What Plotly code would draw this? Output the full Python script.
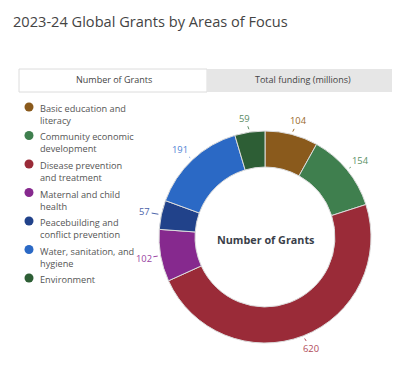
import math
import plotly.graph_objects as go

categories = ["Basic education and<br>literacy", "Community economic<br>development",
              "Disease prevention<br>and treatment", "Maternal and child<br>health",
              "Peacebuilding and<br>conflict prevention", "Water, sanitation, and<br>hygiene",
              "Environment"]
grants = [104, 154, 620, 102, 57, 191, 59]
colors = ["#8a5a1c", "#3f7f4e", "#9a2b38", "#86298e", "#21428a", "#2b69c5", "#2d5e35"]
label_colors = ["#9a6a2c", "#5a9266", "#b04a58", "#9a44a2", "#4a62a8", "#4f84d4", "#5a8a62"]
title = "2023-24 Global Grants by Areas of Focus"
tabs = ["Number of Grants", "Total funding (millions)"]
center_text = "Number of Grants"

# page body has an 8px margin: figure origin sits at (8, 8) of the window
OFF = 8
W, H = 392, 360
def px(x): return (x - OFF) / W
def py(y): return 1 - (y - OFF) / H

CX, CY, R = 265, 237, 106

fig = go.Figure()
fig.add_trace(go.Pie(
    labels=categories, values=grants, sort=False, direction="clockwise", rotation=0,
    hole=0.66, marker=dict(colors=colors, line=dict(color="#dcdcdc", width=1)),
    textinfo="none", automargin=False,
    domain=dict(x=[px(CX - R), px(CX + R)], y=[py(CY + R), py(CY - R)]),
    showlegend=False, hoverinfo="label+value"))

shapes = [
    dict(type="rect", xref="paper", yref="paper", x0=px(19), x1=px(207), y0=py(92), y1=py(69),
         fillcolor="white", line=dict(color="#dcdcdc", width=1)),
    dict(type="rect", xref="paper", yref="paper", x0=px(207), x1=px(396), y0=py(92), y1=py(69),
         fillcolor="#e6e6e6", line=dict(width=0)),
    dict(type="line", xref="paper", yref="paper", x0=px(397), x1=px(397), y0=0, y1=1,
         line=dict(color="#ececec", width=1)),
]
annotations = [
    dict(text=title, x=px(11), y=py(21), xref="paper", yref="paper", xanchor="left",
         yanchor="middle", showarrow=False, font=dict(size=14.6, color="#444", family="Open Sans")),
    dict(text=tabs[0], x=px(114), y=py(80), xref="paper", yref="paper", xanchor="center",
         yanchor="middle", showarrow=False, font=dict(size=9, color="#444", family="Open Sans")),
    dict(text=tabs[1], x=px(303), y=py(80), xref="paper", yref="paper", xanchor="center",
         yanchor="middle", showarrow=False, font=dict(size=9, color="#444", family="Open Sans")),
    dict(text="<b>" + center_text + "</b>", x=px(265), y=py(239), xref="paper", yref="paper",
         xanchor="center", yanchor="middle",
         showarrow=False, font=dict(size=10.8, color="#3a3f4a", family="Open Sans")),
]

# value labels with short leader lines, placed at each slice's mid-angle
total = sum(grants)
cum = 0
for v, col in zip(grants, label_colors):
    mid = (cum + v / 2) / total * 2 * math.pi
    cum += v
    ux, uy = math.sin(mid), -math.cos(mid)
    d = 13
    annotations.append(dict(
        text=str(v), x=px(CX + (R + 1) * ux), y=py(CY + (R + 1) * uy),
        xref="paper", yref="paper", ax=d * ux + 3 * math.copysign(1, ux), ay=d * uy,
        axref="pixel", ayref="pixel",
        showarrow=True, arrowhead=0, arrowwidth=1, arrowcolor=col, standoff=2,
        font=dict(size=9.4, color=col, family="Open Sans")))

# legend
for i, (c, col) in enumerate(zip(categories, colors)):
    my = 107 + 28.5 * i
    shapes.append(dict(type="circle", xref="paper", yref="paper",
                       x0=px(24.5), x1=px(33.5), y0=py(my + 4.5), y1=py(my - 4.5),
                       fillcolor=col, line=dict(width=0)))
    annotations.append(dict(text=c, x=px(38), y=py(my - 7), xref="paper", yref="paper",
                            xanchor="left", yanchor="top", align="left", showarrow=False,
                            font=dict(size=9.2, color="#555", family="Open Sans")))

fig.update_layout(
    width=W, height=H, margin=dict(l=0, r=0, t=0, b=0, pad=0, autoexpand=False),
    paper_bgcolor="white", plot_bgcolor="rgba(0,0,0,0)",
    shapes=shapes, annotations=annotations, showlegend=False,
    font=dict(family="Open Sans"),
)
fig.write_html("out.html")
